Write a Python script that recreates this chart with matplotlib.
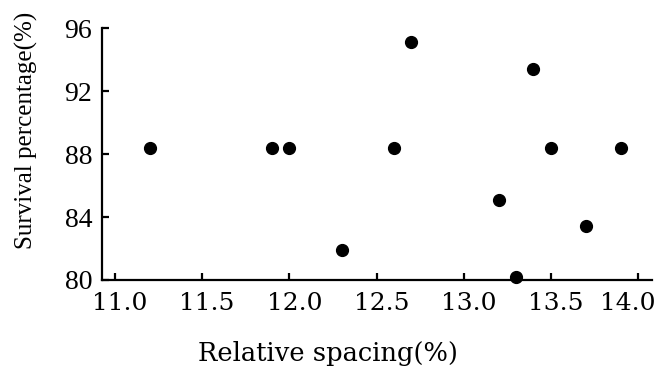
import matplotlib
matplotlib.use("Agg")
import matplotlib.pyplot as plt
import matplotlib.transforms as mtransforms

# data
spacing = [11.2, 11.9, 12.0, 12.3, 12.6, 12.7, 13.2, 13.3, 13.4, 13.5, 13.7, 13.9]
survival = [88.4, 88.4, 88.4, 81.9, 88.4, 95.1, 85.1, 80.2, 93.4, 88.4, 83.4, 88.4]
xticks = [11.0, 11.5, 12.0, 12.5, 13.0, 13.5, 14.0]
yticks = [80, 84, 88, 92, 96]

plt.rcParams['font.family'] = ['Liberation Serif', 'DejaVu Serif']

fig = plt.figure(figsize=(6.58, 3.69), dpi=100)
ax = fig.add_axes([0.1546, 0.2412, 0.8364, 0.6828])

ax.plot(spacing, survival, 'o', color='black', markersize=8.5, clip_on=False, zorder=3)

ax.set_xlim(10.924, 14.08)
ax.set_ylim(80, 96)
ax.set_xticks(xticks)
ax.set_xticklabels(["%.1f" % t for t in xticks], family=['DejaVu Serif'], fontsize=18)
ax.set_yticks(yticks)

for side in ['top', 'right']:
    ax.spines[side].set_visible(False)
for side in ['left', 'bottom']:
    ax.spines[side].set_linewidth(1.6)

ax.tick_params(direction='in', length=5, width=1.6)
ax.tick_params(axis='y', labelsize=20, pad=7)
ax.tick_params(axis='x', pad=9)

# the scanned labels sit a little right of their ticks, the last one pulled in
labels = ax.get_xticklabels()
for i, lab in enumerate(labels):
    dx = -10 if i == len(labels) - 1 else 5
    off = mtransforms.ScaledTranslation(dx / 100, 0, fig.dpi_scale_trans)
    lab.set_transform(lab.get_transform() + off)

ax.set_xlabel("Relative spacing(%)", family=['DejaVu Serif'], fontsize=18.5)
ax.xaxis.set_label_coords(0.411, -0.242)
ax.set_ylabel("Survival percentage(%)", fontsize=18)
ax.yaxis.set_label_coords(-0.1156, 0.595)

fig.savefig("out.png", dpi=100)
